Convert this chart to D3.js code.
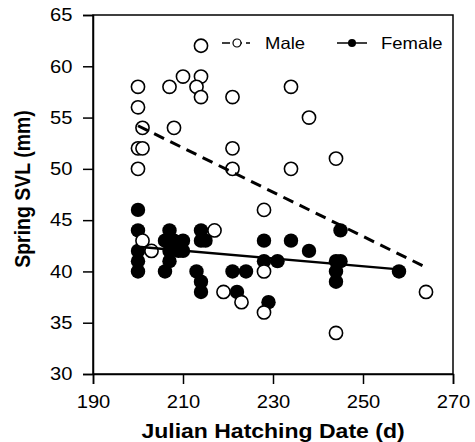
<!DOCTYPE html>
<html>
<head>
<meta charset="utf-8">
<script src="https://cdn.jsdelivr.net/npm/d3@7"></script>
<style>
  body { margin: 0; background: #fff; }
  text { font-family: "Liberation Sans", Arial, sans-serif; }
</style>
</head>
<body>
<div id="chart"></div>
<script>
// Male (open circles): [hatch day, spring SVL]
const maleX = [214, 200, 207, 210, 214, 213, 214, 221, 200, 201, 208, 200, 201, 221, 200, 221,
               234, 238, 244, 234, 228, 217, 201, 203, 228, 219, 223, 228, 264, 244];
const maleY = [62, 58, 58, 59, 59, 58, 57, 57, 56, 54, 54, 52, 52, 52, 50, 50,
               58, 55, 51, 50, 46, 44, 43, 42, 40, 38, 37, 36, 38, 34];

// Female (filled circles)
const femaleX = [200, 200, 207, 214, 206, 207, 208, 209, 210, 210, 214, 215, 200, 200, 200, 207,
                 206, 213, 214, 214, 221, 224, 222, 228, 228, 231, 229, 234, 238, 245, 244, 245,
                 244, 244, 258];
const femaleY = [46, 44, 44, 44, 43, 42, 43, 42, 43, 42, 43, 43, 42, 41, 40, 41,
                 40, 40, 39, 38, 40, 40, 38, 43, 41, 41, 37, 43, 42, 44, 41, 41,
                 40, 39, 40];

// regression lines, end points
const maleFitX = [200, 264];
const maleFitY = [54.2, 40.4];
const femaleFitX = [200, 258];
const femaleFitY = [42.4, 40.2];

const xTicks = [190, 210, 230, 250, 270];
const yTicks = [30, 35, 40, 45, 50, 55, 60, 65];

const width = 475, height = 442;
const margin = {top: 15, right: 22, bottom: 68, left: 93};
const stretch = 1.12; // the original figure text is a bit wide

const svg = d3.select("#chart").append("svg")
    .attr("width", width)
    .attr("height", height);

const x = d3.scaleLinear().domain([190, 270]).range([margin.left, width - margin.right]);
const y = d3.scaleLinear().domain([30, 65]).range([height - margin.bottom, margin.top]);

// frame
svg.append("rect")
    .attr("x", x(190)).attr("y", y(65))
    .attr("width", x(270) - x(190)).attr("height", y(30) - y(65))
    .attr("fill", "none").attr("stroke", "#000").attr("stroke-width", 1.5);

// axes
const xAxis = svg.append("g")
    .attr("transform", `translate(0,${y(30)})`)
    .call(d3.axisBottom(x).tickValues(xTicks).tickSize(10).tickPadding(11));
const yAxis = svg.append("g")
    .attr("transform", `translate(${x(190)},0)`)
    .call(d3.axisLeft(y).tickValues(yTicks).tickSize(10).tickPadding(8.3));

[xAxis, yAxis].forEach(g => {
    g.select(".domain").attr("stroke-width", 1.5);
    g.selectAll(".tick line").attr("stroke-width", 1.5);
    g.selectAll(".tick text")
        .style("font-size", "18px")
        .style("font-family", "'Liberation Sans', Arial, sans-serif")
        .attr("fill", "#000")
        .attr("transform", `scale(${stretch},1)`);
});

// axis titles
svg.append("text")
    .attr("transform", `translate(${x(230)},438) scale(1.15,1)`)
    .attr("text-anchor", "middle")
    .style("font-size", "20px")
    .style("font-weight", "bold")
    .text("Julian Hatching Date (d)");

svg.append("text")
    .attr("transform", `translate(30,189) scale(${stretch},1) rotate(-90)`)
    .attr("text-anchor", "middle")
    .style("font-size", "19.5px")
    .style("font-weight", "bold")
    .text("Spring SVL (mm)");

const line = d3.line().x(d => x(d[0])).y(d => y(d[1]));

// female points (drawn first, open circles on top)
svg.selectAll(".female")
    .data(femaleX.map((d, i) => [d, femaleY[i]]))
    .enter().append("circle")
    .attr("class", "female")
    .attr("cx", d => x(d[0]))
    .attr("cy", d => y(d[1]))
    .attr("r", 7.2)
    .attr("fill", "#000");

svg.selectAll(".male")
    .data(maleX.map((d, i) => [d, maleY[i]]))
    .enter().append("circle")
    .attr("class", "male")
    .attr("cx", d => x(d[0]))
    .attr("cy", d => y(d[1]))
    .attr("r", 6.6)
    .attr("fill", "#fff")
    .attr("stroke", "#000")
    .attr("stroke-width", 1.6);

// fit lines
svg.append("path")
    .datum(maleFitX.map((d, i) => [d, maleFitY[i]]))
    .attr("d", line)
    .attr("fill", "none")
    .attr("stroke", "#000")
    .attr("stroke-width", 3)
    .attr("stroke-dasharray", "11,7");

svg.append("path")
    .datum(femaleFitX.map((d, i) => [d, femaleFitY[i]]))
    .attr("d", line)
    .attr("fill", "none")
    .attr("stroke", "#000")
    .attr("stroke-width", 2.5);

// legend
const legend = svg.append("g").attr("transform", "translate(0,43)");

legend.append("line")
    .attr("x1", 222).attr("x2", 250).attr("y1", 0).attr("y2", 0)
    .attr("stroke", "#000").attr("stroke-width", 1.5)
    .attr("stroke-dasharray", "8,4");
legend.append("circle")
    .attr("cx", 237).attr("cy", 0).attr("r", 4)
    .attr("fill", "#fff").attr("stroke", "#000").attr("stroke-width", 1.2);
legend.append("text")
    .attr("transform", `translate(265,0) scale(${stretch},1)`)
    .attr("dy", "0.35em")
    .style("font-size", "16.5px")
    .text("Male");

legend.append("line")
    .attr("x1", 337).attr("x2", 367).attr("y1", 0).attr("y2", 0)
    .attr("stroke", "#000").attr("stroke-width", 1.5);
legend.append("circle")
    .attr("cx", 352).attr("cy", 0).attr("r", 4)
    .attr("fill", "#000");
legend.append("text")
    .attr("transform", `translate(381,0) scale(${stretch},1)`)
    .attr("dy", "0.35em")
    .style("font-size", "16.5px")
    .text("Female");
</script>
</body>
</html>
